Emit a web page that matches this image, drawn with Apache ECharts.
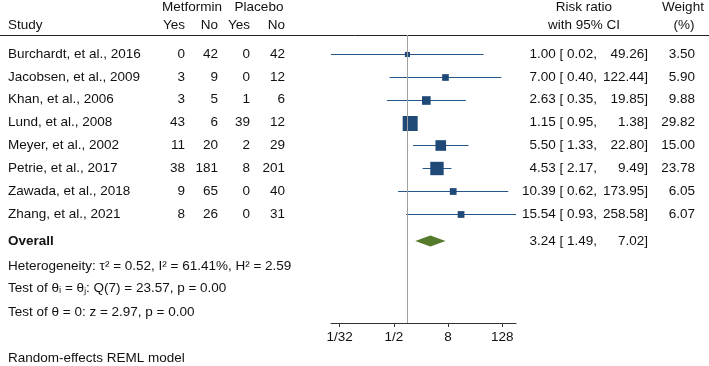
<!DOCTYPE html>
<html>
<head>
<meta charset="utf-8">
<script src="https://cdn.jsdelivr.net/npm/echarts@6/dist/echarts.min.js"></script>
<style>
html, body { margin: 0; padding: 0; background: #fff; }
#chart { width: 709px; height: 366px; }
</style>
</head>
<body>
<div id="chart"></div>
<script>
// study table
var studies = ['Burchardt, et al., 2016', 'Jacobsen, et al., 2009', 'Khan, et al., 2006', 'Lund, et al., 2008',
               'Meyer, et al., 2002', 'Petrie, et al., 2017', 'Zawada, et al., 2018', 'Zhang, et al., 2021'];
var metYes = [0, 3, 3, 43, 11, 38, 9, 8];
var metNo = [42, 9, 5, 6, 20, 181, 65, 26];
var plaYes = [0, 0, 1, 39, 2, 8, 0, 0];
var plaNo = [42, 12, 6, 12, 29, 201, 40, 31];
var riskRatio = [1.00, 7.00, 2.63, 1.15, 5.50, 4.53, 10.39, 15.54];
var ciLow = [0.02, 0.40, 0.35, 0.95, 1.33, 2.17, 0.62, 0.93];
var ciHigh = [49.26, 122.44, 19.85, 1.38, 22.80, 9.49, 173.95, 258.58];
var weight = [3.50, 5.90, 9.88, 29.82, 15.00, 23.78, 6.05, 6.07];

// overall estimate
var overallRR = [3.24, 1.49, 7.02];   // est, lo, hi
var statLines = [
  'Heterogeneity: τ² = 0.52, I² = 61.41%, H² = 2.59',
  'Test of θᵢ = θⱼ: Q(7) = 23.57, p = 0.00',
  'Test of θ = 0: z = 2.97, p = 0.00'
];
var statRows = [9.27, 10.25, 11.29];
var overallRow = 8.18;

// x axis ticks (log2 of risk ratio)
var tickPos = [-5, -1, 3, 7];

var FONT = '"Liberation Sans", Arial, sans-serif';
var FS = 13.5;
var TXT = '#111';
var log2 = function (v) { return Math.log(v) / Math.LN2; };
var fmt = function (v) { return v.toFixed(2); };
var maxWeight = Math.max.apply(null, weight);

var myChart = echarts.init(document.getElementById('chart'));

function txt(x, y, s, align, bold) {
  return {
    type: 'text', x: x, y: y,
    style: {
      text: s, fill: TXT, fontSize: FS, fontFamily: FONT,
      fontWeight: bold ? 'bold' : 'normal',
      align: align || 'left', verticalAlign: 'middle'
    }
  };
}

function renderStudy(params, api) {
  var row = api.value(1);
  var c = api.coord([api.value(0), row]);
  var lo = api.coord([api.value(2), row]);
  var hi = api.coord([api.value(3), row]);
  var side = 15 * Math.sqrt(api.value(4) / maxWeight);
  var ly = Math.round(c[1]) + 0.5;
  return {
    type: 'group',
    children: [
      { type: 'line', shape: { x1: lo[0], y1: ly, x2: hi[0], y2: ly }, style: { stroke: '#24568a', lineWidth: 1 } },
      { type: 'rect', shape: { x: c[0] - side / 2, y: ly - side / 2, width: side, height: side }, style: { fill: '#1f4a78' } }
    ]
  };
}

function renderDiamond(params, api) {
  var row = api.value(1);
  var c = api.coord([api.value(0), row]);
  var lo = api.coord([api.value(2), row]);
  var hi = api.coord([api.value(3), row]);
  return {
    type: 'polygon',
    shape: { points: [[lo[0], c[1]], [c[0], c[1] - 5.5], [hi[0], c[1]], [c[0], c[1] + 5.5]] },
    style: { fill: '#557a2b' }
  };
}

function renderTable(params, api) {
  var i = params.dataIndex;
  var y = api.coord([0, api.value(1)])[1];
  return {
    type: 'group',
    children: [
      txt(8, y, studies[i]),
      txt(185, y, String(metYes[i]), 'right'),
      txt(218, y, String(metNo[i]), 'right'),
      txt(250, y, String(plaYes[i]), 'right'),
      txt(285, y, String(plaNo[i]), 'right'),
      txt(597, y, fmt(riskRatio[i]) + ' [ ' + fmt(ciLow[i]) + ',', 'right'),
      txt(648, y, fmt(ciHigh[i]) + ']', 'right'),
      txt(695, y, fmt(weight[i]), 'right')
    ]
  };
}

function renderOverallText(params, api) {
  var y = api.coord([0, overallRow])[1];
  return {
    type: 'group',
    children: [
      txt(8, y, 'Overall', 'left', true),
      txt(597, y, fmt(overallRR[0]) + ' [ ' + fmt(overallRR[1]) + ',', 'right'),
      txt(648, y, fmt(overallRR[2]) + ']', 'right')
    ]
  };
}

function renderStat(params, api) {
  var y = api.coord([0, api.value(1)])[1];
  return txt(8, y, statLines[params.dataIndex]);
}

var option = {
  animation: false,
  backgroundColor: '#fff',
  grid: { left: 331, right: 193, top: 35, bottom: 43 },
  xAxis: {
    type: 'value',
    min: log2(Math.min.apply(null, ciLow)),
    max: log2(Math.max.apply(null, ciHigh)),
    splitLine: { show: false },
    axisLine: { onZero: false, lineStyle: { color: '#333', width: 1 } },
    axisTick: { customValues: tickPos, length: 4, lineStyle: { color: '#333' } },
    axisLabel: {
      customValues: tickPos,
      margin: 7,
      color: TXT, fontSize: FS, fontFamily: FONT,
      formatter: function (v) {
        var r = Math.round(v);
        return r < 0 ? '1/' + Math.pow(2, -r) : String(Math.pow(2, r));
      }
    }
  },
  yAxis: { type: 'value', show: false, inverse: true, min: -0.83, max: 11.77 },
  graphic: [
    txt(192, 7, 'Metformin', 'center'),
    txt(259, 7, 'Placebo', 'center'),
    txt(8, 25, 'Study'),
    txt(185, 25, 'Yes', 'right'),
    txt(218, 25, 'No', 'right'),
    txt(250, 25, 'Yes', 'right'),
    txt(285, 25, 'No', 'right'),
    txt(584, 7, 'Risk ratio', 'center'),
    txt(584, 25, 'with 95% CI', 'center'),
    txt(683, 7, 'Weight', 'center'),
    txt(684, 25, '(%)', 'center'),
    { type: 'line', shape: { x1: 0, y1: 35.5, x2: 709, y2: 35.5 }, style: { stroke: '#222', lineWidth: 1 } },
    txt(8, 358, 'Random-effects REML model')
  ],
  series: [
    {
      type: 'line', data: [], silent: true,
      markLine: {
        silent: true, symbol: 'none', label: { show: false },
        lineStyle: { color: '#a0a0a0', width: 1, type: 'solid' },
        data: [{ xAxis: 0 }]
      }
    },
    {
      type: 'custom', renderItem: renderStudy, silent: true,
      data: studies.map(function (s, i) {
        return [log2(riskRatio[i]), i, log2(ciLow[i]), log2(ciHigh[i]), weight[i]];
      })
    },
    {
      type: 'custom', renderItem: renderDiamond, silent: true,
      data: [[log2(overallRR[0]), overallRow, log2(overallRR[1]), log2(overallRR[2])]]
    },
    {
      type: 'custom', renderItem: renderTable, silent: true,
      data: studies.map(function (s, i) { return [0, i]; })
    },
    {
      type: 'custom', renderItem: renderOverallText, silent: true,
      data: [[0, overallRow]]
    },
    {
      type: 'custom', renderItem: renderStat, silent: true,
      data: statRows.map(function (r) { return [0, r]; })
    }
  ]
};
myChart.setOption(option);
</script>
</body>
</html>
